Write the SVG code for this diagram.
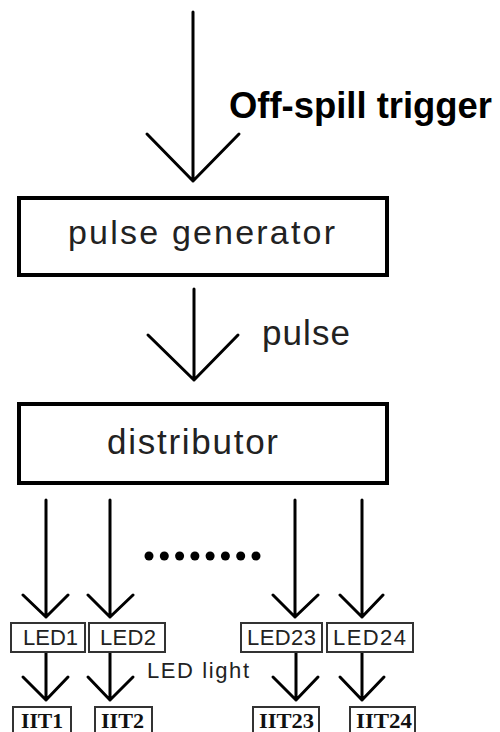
<svg xmlns="http://www.w3.org/2000/svg" width="500" height="732" viewBox="0 0 500 732">
<style>
.big{fill:none;stroke:#000;stroke-width:4}
.small{fill:#fff;stroke:#333;stroke-width:2}
.ln{fill:none;stroke:#000;stroke-width:3;stroke-linecap:round;stroke-linejoin:round}
.t{font-family:"Liberation Sans",Arial,sans-serif;fill:#222}
.s{font-family:"Liberation Serif","Times New Roman",serif;font-weight:bold;fill:#111}
</style>
<rect width="500" height="732" fill="#fff"/>
<g id="connectors">
  <path class="ln" d="M193 12V181M147 134L193 181L239 134"/>
  <path class="ln" d="M194 289V380M148 335L194 380L238 335"/>
  <path class="ln" d="M46 500V617M23 595L46 617L68 595"/>
  <path class="ln" d="M110 500V617M88 595L110 617L133 595"/>
  <path class="ln" d="M295 500V617M273 595L295 617L318 595"/>
  <path class="ln" d="M362 500V617M340 595L362 617L383 595"/>
  <path class="ln" d="M46 652V700M23 677L46 700L68 677"/>
  <path class="ln" d="M110 652V700M88 677L110 700L133 677"/>
  <path class="ln" d="M296 652V700M273 677L296 700L318 677"/>
  <path class="ln" d="M362 652V700M340 677L362 700L384 677"/>
</g>
<g id="label-trigger"><text x="229" y="118" font-family="Liberation Sans,Arial,sans-serif" fill="#000" font-size="36" font-weight="bold" textLength="263" lengthAdjust="spacingAndGlyphs">Off-spill trigger</text></g>
<g id="pulse-generator">
  <rect class="big" x="19" y="198" width="368" height="77"/>
  <text class="t" x="68" y="244" font-size="34" textLength="267" lengthAdjust="spacing">pulse generator</text>
</g>
<g id="label-pulse"><text class="t" x="262" y="345" font-size="35" textLength="88" lengthAdjust="spacing">pulse</text></g>
<g id="distributor">
  <rect class="big" x="19" y="404" width="368" height="79"/>
  <text class="t" x="107" y="454" font-size="35" textLength="171" lengthAdjust="spacing">distributor</text>
</g>
<g id="dots" fill="#000">
  <circle cx="149" cy="556" r="4.5"/><circle cx="164.3" cy="556" r="4.5"/><circle cx="179.6" cy="556" r="4.5"/><circle cx="194.9" cy="556" r="4.5"/><circle cx="210.1" cy="556" r="4.5"/><circle cx="225.4" cy="556" r="4.5"/><circle cx="240.7" cy="556" r="4.5"/><circle cx="256" cy="556" r="4.5"/>
</g>
<g id="led1"><rect class="small" x="11" y="623" width="74" height="29"/><text class="t" x="23" y="645" font-size="22" textLength="55" lengthAdjust="spacing">LED1</text></g>
<g id="led2"><rect class="small" x="89" y="623" width="76" height="29"/><text class="t" x="100" y="645" font-size="22" textLength="56" lengthAdjust="spacing">LED2</text></g>
<g id="led23"><rect class="small" x="241" y="623" width="81" height="29"/><text class="t" x="247" y="645" font-size="22" textLength="69" lengthAdjust="spacing">LED23</text></g>
<g id="led24"><rect class="small" x="327" y="623" width="86" height="29"/><text class="t" x="333" y="645" font-size="22" textLength="73" lengthAdjust="spacing">LED24</text></g>
<g id="label-led-light"><text class="t" x="147" y="678" font-size="22" textLength="102" lengthAdjust="spacing">LED light</text></g>
<g id="iit1"><rect class="small" x="13" y="707" width="58" height="40"/><text class="s" x="21" y="728" font-size="22" textLength="42" lengthAdjust="spacingAndGlyphs">IIT1</text></g>
<g id="iit2"><rect class="small" x="95" y="707" width="57" height="40"/><text class="s" x="101" y="728" font-size="22" textLength="43" lengthAdjust="spacingAndGlyphs">IIT2</text></g>
<g id="iit23"><rect class="small" x="253" y="707" width="66" height="40"/><text class="s" x="259" y="728" font-size="22" textLength="55" lengthAdjust="spacingAndGlyphs">IIT23</text></g>
<g id="iit24"><rect class="small" x="350" y="707" width="65" height="40"/><text class="s" x="356" y="728" font-size="22" textLength="56" lengthAdjust="spacingAndGlyphs">IIT24</text></g>
</svg>
